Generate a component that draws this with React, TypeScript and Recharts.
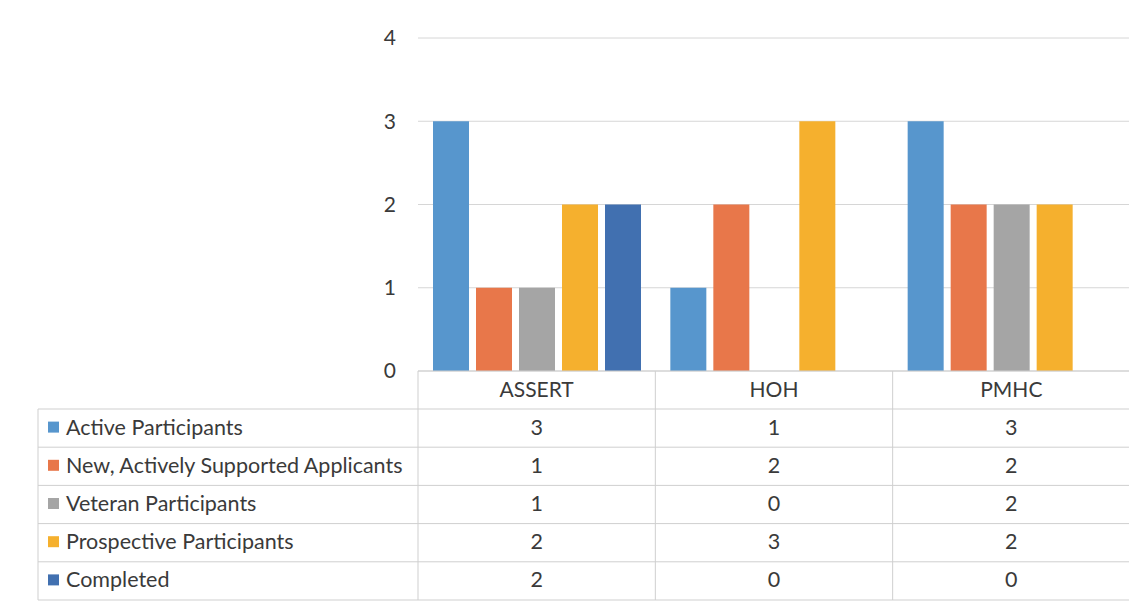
import React from "react";
import { BarChart, Bar, XAxis, YAxis, CartesianGrid } from "recharts";

const categories = ["ASSERT", "HOH", "PMHC"];
const seriesNames = [
  "Active Participants",
  "New, Actively Supported Applicants",
  "Veteran Participants",
  "Prospective Participants",
  "Completed",
];
const activeParticipants = [3, 1, 3];
const newApplicants = [1, 2, 2];
const veteranParticipants = [1, 0, 2];
const prospectiveParticipants = [2, 3, 2];
const completed = [2, 0, 0];
const yTicks = [0, 1, 2, 3, 4];

const seriesValues = [
  activeParticipants,
  newApplicants,
  veteranParticipants,
  prospectiveParticipants,
  completed,
];
const colors = ["#5796CD", "#E8774A", "#A5A5A5", "#F5B02E", "#4170B0"];

const data = categories.map((c, i) => {
  const row: Record<string, string | number> = { name: c };
  seriesValues.forEach((vals, s) => {
    row["s" + s] = vals[i];
  });
  return row;
});

// layout (wrapper coords, page minus 8px body margin)
const W = 1129;
const PLOT_LEFT = 410;
const PLOT_RIGHT = 1122;
const PLOT_TOP = 30;
const HEADER_H = 38;
const CHART_H = 401;
const PLOT_BOTTOM = CHART_H - HEADER_H;
const TABLE_LEFT = 30;
const ROW_H = 38.2;
const FONT = "Lato, 'Noto Sans', sans-serif";
const FS = 21.5;
const TEXT = "#3a3a3a";
const LINE = "#cfcfcf";

const CategoryTick = (props: any) => {
  const { x, payload } = props;
  return (
    <text
      x={x}
      y={PLOT_BOTTOM + HEADER_H / 2 - 2}
      textAnchor="middle"
      dominantBaseline="central"
      fontFamily={FONT}
      fontSize={21}
      fill={TEXT}
    >
      {payload.value}
    </text>
  );
};

function DataTable() {
  const colW = (PLOT_RIGHT - PLOT_LEFT) / categories.length;
  const bottom = CHART_H + ROW_H * seriesNames.length;
  return (
    <svg
      width={W}
      height={bottom + 4}
      style={{ position: "absolute", left: 0, top: 0, pointerEvents: "none" }}
    >
      {categories.map((_, i) => (
        <line
          key={"v" + i}
          x1={PLOT_LEFT + i * colW}
          x2={PLOT_LEFT + i * colW}
          y1={PLOT_BOTTOM}
          y2={bottom}
          stroke={LINE}
        />
      ))}
      <line x1={PLOT_RIGHT} x2={PLOT_RIGHT} y1={PLOT_BOTTOM} y2={bottom} stroke={LINE} />
      <line x1={TABLE_LEFT} x2={TABLE_LEFT} y1={CHART_H} y2={bottom} stroke={LINE} />
      <line x1={PLOT_LEFT} x2={PLOT_RIGHT} y1={PLOT_BOTTOM} y2={PLOT_BOTTOM} stroke={LINE} />
      {seriesNames.map((_, k) => (
        <line
          key={"h" + k}
          x1={TABLE_LEFT}
          x2={PLOT_RIGHT}
          y1={CHART_H + k * ROW_H}
          y2={CHART_H + k * ROW_H}
          stroke={LINE}
        />
      ))}
      <line x1={TABLE_LEFT} x2={PLOT_RIGHT} y1={bottom} y2={bottom} stroke={LINE} />
      {seriesNames.map((name, k) => {
        const cy = CHART_H + k * ROW_H + ROW_H / 2;
        return (
          <g key={name}>
            <rect x={TABLE_LEFT + 10} y={cy - 6.5} width={11} height={11} fill={colors[k]} />
            <text
              x={TABLE_LEFT + 28}
              y={cy - 1.5}
              dominantBaseline="central"
              fontFamily={FONT}
              fontSize={FS}
              fill={TEXT}
            >
              {name}
            </text>
            {seriesValues[k].map((v, i) => (
              <text
                key={i}
                x={PLOT_LEFT + i * colW + colW / 2}
                y={cy - 1.5}
                textAnchor="middle"
                dominantBaseline="central"
                fontFamily={FONT}
                fontSize={FS}
                fill={TEXT}
              >
                {v}
              </text>
            ))}
          </g>
        );
      })}
    </svg>
  );
}

export default function App() {
  return (
    <div style={{ position: "relative", width: W, height: 598, background: "#fff" }}>
      <BarChart
        width={W}
        height={CHART_H}
        data={data}
        margin={{ top: PLOT_TOP, right: W - PLOT_RIGHT, left: 0, bottom: 0 }}
        barSize={36}
        barGap={7}
      >
        <CartesianGrid vertical={false} stroke="#d6d6d6" />
        <XAxis
          dataKey="name"
          height={HEADER_H}
          axisLine={false}
          tickLine={false}
          tick={<CategoryTick />}
          interval={0}
        />
        <YAxis
          width={PLOT_LEFT}
          domain={[0, 4]}
          ticks={yTicks}
          axisLine={false}
          tickLine={false}
          tickSize={0}
          tickMargin={22}
          tick={{ fontFamily: FONT, fontSize: 21, fill: TEXT }}
        />
        {seriesNames.map((name, s) => (
          <Bar
            key={name}
            dataKey={"s" + s}
            name={name}
            fill={colors[s]}
            isAnimationActive={false}
          />
        ))}
      </BarChart>
      <DataTable />
    </div>
  );
}
